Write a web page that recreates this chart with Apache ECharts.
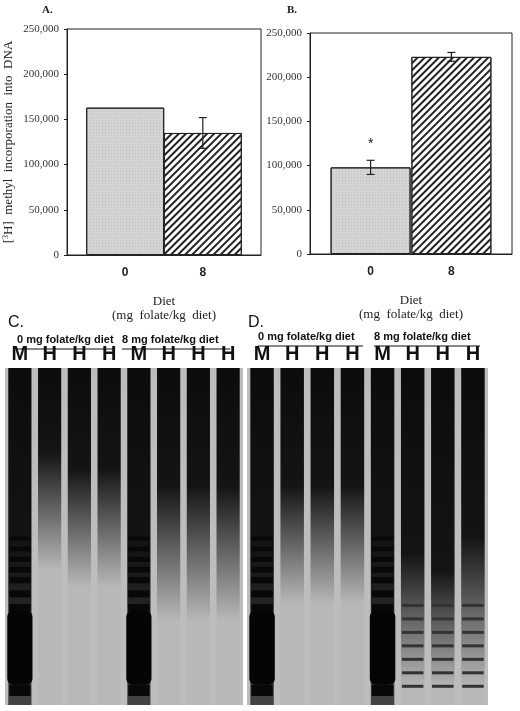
<!DOCTYPE html>
<html>
<head>
<meta charset="utf-8">
<script src="https://cdn.jsdelivr.net/npm/echarts@6/dist/echarts.min.js"></script>
<style>html,body{margin:0;background:#fff}#chart{width:520px;height:711px}</style>
</head>
<body>
<div id="chart"></div>
<script>
// bar data (panels A and B)
const dietLabels = ['0', '8'];
const dietPos = [0.3, 0.7];
const panelA = [163000, 135000];
const panelAErr = [0, 17000];
const panelB = [98000, 223000];
const panelBErr = [8000, 5000];
const yTicks = [0, 50000, 100000, 150000, 200000, 250000];

// gel lanes (panels C and D), fractions of gel height
const laneLabels = ['M', 'H', 'H', 'H', 'M', 'H', 'H', 'H'];
const gelCDark = [0.55, 0.25, 0.3, 0.3, 0.55, 0.35, 0.35, 0.35];
const gelCFade = [1.0, 0.6, 0.65, 0.65, 1.0, 0.75, 0.75, 0.75];
const gelDDark = [0.55, 0.35, 0.35, 0.35, 0.55, 0.55, 0.6, 0.5];
const gelDFade = [1.0, 0.7, 0.7, 0.7, 1.0, 0.95, 0.95, 0.95];
const ladderBands = [0.5, 0.53, 0.56, 0.59, 0.62, 0.66, 0.7, 0.74, 0.78, 0.82, 0.86, 0.9, 0.94];
const gelDBandLanes = [5, 6, 7];

const chart = echarts.init(document.getElementById('chart'));
const serif = 'Liberation Serif';

const dots = { symbol: 'circle', symbolSize: 0.5, dashArrayX: [[1, 1.5]], dashArrayY: [1, 1.5], color: '#555' };
const hatch = { symbol: 'rect', rotation: -Math.PI / 4, dashArrayX: [1, 0], dashArrayY: [1.2, 3], color: '#222' };

function barData(vals) {
  return vals.map((v, i) => ({
    value: [dietPos[i], v],
    itemStyle: { color: i === 0 ? '#d4d4d4' : '#fff', decal: i === 0 ? dots : hatch, borderColor: '#222', borderWidth: 1 }
  }));
}

function errSeries(idx, vals, errs) {
  return {
    type: 'custom', xAxisIndex: idx, yAxisIndex: idx, z: 5,
    data: vals.map((v, i) => [dietPos[i], v, errs[i]]).filter(d => d[2] > 0),
    renderItem: (params, api) => {
      const x = api.value(0), y = api.value(1), e = api.value(2);
      const hi = api.coord([x, y + e]), lo = api.coord([x, y - e]);
      const s = { stroke: '#222', lineWidth: 1.2 };
      return { type: 'group', children: [
        { type: 'line', shape: { x1: hi[0], y1: hi[1], x2: lo[0], y2: lo[1] }, style: s },
        { type: 'line', shape: { x1: hi[0] - 4, y1: hi[1], x2: hi[0] + 4, y2: hi[1] }, style: s },
        { type: 'line', shape: { x1: lo[0] - 4, y1: lo[1], x2: lo[0] + 4, y2: lo[1] }, style: s }
      ]};
    }
  };
}

function gelSeries(idx, dark, fade, bandLanes) {
  return {
    type: 'custom', xAxisIndex: idx, yAxisIndex: idx,
    data: laneLabels.map((l, i) => [i, dark[i], fade[i], l === 'M' || bandLanes.includes(i) ? 1 : 0, l === 'M' ? 1 : 0]),
    renderItem: (params, api) => {
      const i = api.value(0), d = api.value(1), f = api.value(2);
      const top = api.coord([i, 1]), bot = api.coord([i, 0]);
      const w = api.size([1, 0])[0] * 0.78;
      const h = bot[1] - top[1];
      const x0 = top[0] - w / 2;
      const children = [{
        type: 'rect', shape: { x: x0, y: top[1], width: w, height: h },
        style: { fill: new echarts.graphic.LinearGradient(0, 0, 0, 1, [
          { offset: 0, color: '#0c0c0c' }, { offset: d, color: '#141414' },
          { offset: Math.min(f, 1), color: f >= 1 ? '#444' : '#b8b8b8' }, { offset: 1, color: f >= 1 ? '#333' : '#b8b8b8' }
        ]) }
      }];
      if (api.value(3)) {
        ladderBands.forEach((b, k) => {
          const marker = api.value(4);
          if (!marker && b < 0.7) return;
          children.push({ type: 'rect', shape: { x: x0 + 1, y: top[1] + b * h, width: w - 2, height: marker ? 4 + k * 0.6 : 3 },
            style: { fill: marker ? '#080808' : '#333' } });
        });
        if (api.value(4)) children.push({ type: 'rect', shape: { x: x0 - 1, y: top[1] + 0.72 * h, width: w + 2, height: 0.22 * h, r: 6 }, style: { fill: '#050505' } });
      }
      return { type: 'group', children };
    }
  };
}

const valAxisLabel = { fontFamily: serif, fontSize: 11, color: '#333' };
function barXAxis(idx) {
  return {
    gridIndex: idx, type: 'value', min: 0, max: 1, interval: 0.1,
    axisLine: { lineStyle: { color: '#222' } }, axisTick: { show: false }, splitLine: { show: false },
    axisLabel: { fontFamily: 'Liberation Sans', fontWeight: 'bold', fontSize: 12, color: '#222', margin: 12,
      formatter: v => { const k = dietPos.findIndex(p => Math.abs(p - v) < 1e-6); return k >= 0 ? dietLabels[k] : ''; } },
    name: 'Diet\n(mg  folate/kg  diet)', nameLocation: 'middle', nameGap: 40,
    nameTextStyle: { fontFamily: serif, fontSize: 13, color: '#222', lineHeight: 14 }
  };
}
function barYAxis(idx, extra) {
  return Object.assign({
    gridIndex: idx, type: 'value', min: yTicks[0], max: yTicks[yTicks.length - 1], interval: 50000,
    axisLine: { show: true, lineStyle: { color: '#222' } }, axisTick: { length: 3 }, splitLine: { show: false },
    axisLabel: valAxisLabel
  }, extra);
}
function gelXAxis(idx) {
  return { gridIndex: idx, type: 'category', data: laneLabels, position: 'top',
    axisLine: { show: false }, axisTick: { show: false },
    axisLabel: { fontFamily: 'Liberation Sans', fontWeight: 'bold', fontSize: 20, color: '#111', margin: 4 } };
}
function gelYAxis(idx) { return { gridIndex: idx, type: 'value', min: 0, max: 1, show: false }; }

function groupHead(x, y, w, text) {
  return [
    { type: 'text', left: x, top: y, style: { text, font: 'bold 11px Liberation Sans', fill: '#111', width: w, align: 'center' } },
    { type: 'line', shape: { x1: x, y1: y + 15, x2: x + w, y2: y + 15 }, style: { stroke: '#111', lineWidth: 1 } }
  ];
}

chart.setOption({
  animation: false,
  grid: [
    { left: 67, top: 29, width: 194, height: 226, show: true, borderColor: '#222', borderWidth: 1 },
    { left: 310, top: 33, width: 202, height: 221, show: true, borderColor: '#222', borderWidth: 1 },
    { left: 5, top: 368, width: 238, height: 337, show: true, backgroundColor: '#bdbdbd', borderWidth: 0 },
    { left: 247, top: 368, width: 241, height: 337, show: true, backgroundColor: '#bdbdbd', borderWidth: 0 }
  ],
  xAxis: [barXAxis(0), barXAxis(1), gelXAxis(2), gelXAxis(3)],
  yAxis: [
    barYAxis(0, { name: '[{sup|3}H]  methyl  incorporation  into  DNA', nameLocation: 'middle', nameGap: 52,
      nameTextStyle: { fontFamily: serif, fontSize: 13, color: '#222', rich: { sup: { fontSize: 8, verticalAlign: 'top', fontFamily: serif } } } }),
    barYAxis(1), gelYAxis(2), gelYAxis(3)
  ],
  graphic: [
    { type: 'text', left: 42, top: 5, style: { text: 'A.', font: 'bold 11px Liberation Serif', fill: '#222' } },
    { type: 'text', left: 287, top: 5, style: { text: 'B.', font: 'bold 11px Liberation Serif', fill: '#222' } },
    { type: 'text', left: 8, top: 315, style: { text: 'C.', font: '16px Liberation Sans', fill: '#111' } },
    { type: 'text', left: 248, top: 315, style: { text: 'D.', font: '16px Liberation Sans', fill: '#111' } },
    ...groupHead(17, 334, 98, '0 mg folate/kg diet'),
    ...groupHead(122, 334, 108, '8 mg folate/kg diet'),
    ...groupHead(258, 331, 105, '0 mg folate/kg diet'),
    ...groupHead(374, 331, 106, '8 mg folate/kg diet')
  ],
  series: [
    { type: 'bar', xAxisIndex: 0, yAxisIndex: 0, barWidth: 78, data: barData(panelA) },
    errSeries(0, panelA, panelAErr),
    { type: 'bar', xAxisIndex: 1, yAxisIndex: 1, barWidth: 80, data: barData(panelB),
      label: { show: true, position: 'top', distance: 16, fontSize: 14, color: '#222', formatter: p => p.dataIndex === 0 ? '*' : '' } },
    errSeries(1, panelB, panelBErr),
    gelSeries(2, gelCDark, gelCFade, []),
    gelSeries(3, gelDDark, gelDFade, gelDBandLanes)
  ]
});
</script>
</body>
</html>
